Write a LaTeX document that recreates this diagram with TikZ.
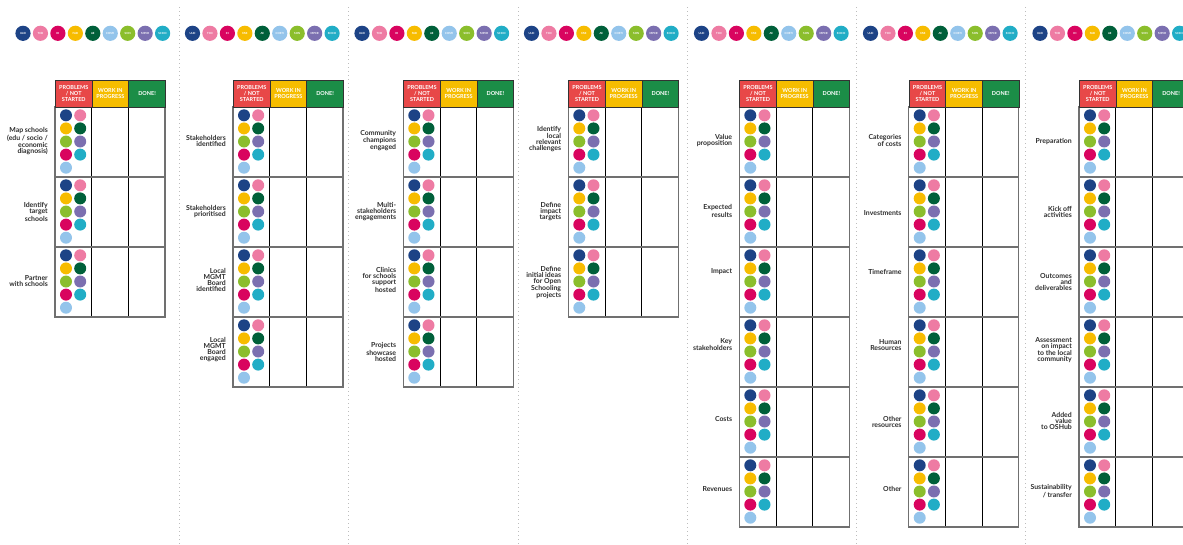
\documentclass[tikz,border=0pt]{standalone}
\usepackage{fontspec}
\setmainfont{Lato}
\definecolor{cUlei}{HTML}{1D4386}
\definecolor{cTcd}{HTML}{EE7BA3}
\definecolor{cIh}{HTML}{D9045F}
\definecolor{cFab}{HTML}{F7BC00}
\definecolor{cAe}{HTML}{00603A}
\definecolor{cCosti}{HTML}{93C4EB}
\definecolor{cSon}{HTML}{8BBE2C}
\definecolor{cMpcr}{HTML}{7B6FB0}
\definecolor{cScico}{HTML}{21ADC6}
\definecolor{hRed}{HTML}{E84848}
\definecolor{hYel}{HTML}{F6BD00}
\definecolor{hGrn}{HTML}{1B8D47}
\definecolor{labText}{HTML}{2E2E2E}
\definecolor{gridGray}{HTML}{707070}
\definecolor{sepGray}{HTML}{BDBDBD}
\tikzset{
 topdot/.style={circle, minimum size=15.2pt, inner sep=0pt, text=white, font=\fontsize{2.8}{3}\selectfont\bfseries},
 dot/.style={circle, minimum size=12pt, inner sep=0pt},
 hdr/.style={minimum width=36.67pt, minimum height=27pt, inner sep=0pt, anchor=north west, text=white, align=center, font=\fontsize{5.5}{6}\selectfont\bfseries, draw=black!80, line width=0.8pt},
 lab/.style={anchor=east, align=right, inner sep=0pt, text=labText, font=\fontsize{6.9}{6}\selectfont\bfseries},
 outerln/.style={draw=gridGray, line width=1.3pt},
 colln/.style={draw=black, line width=0.9pt},
 rowln/.style={draw=gridGray, line width=1.1pt},
 sepln/.style={draw=sepGray, line width=0.7pt, dash pattern=on 0.7pt off 3.3pt},
}
% #1 name, #2 left x, #3 number of rows
\newcommand\sheet[3]{%
 \pgfmathsetmacro\yb{107+70*#3}
 \draw[colln] ({#2+36.67},107) -- ({#2+36.67},\yb);
 \draw[colln] ({#2+73.33},107) -- ({#2+73.33},\yb);
 \foreach \r in {1,...,#3}{
   \pgfmathsetmacro\yt{37+70*\r}
   \ifnum\r>1 \draw[rowln] (#2,\yt) -- ({#2+110},\yt);\fi
   \foreach \c [count=\i from 0] in {cUlei,cFab,cSon,cIh,cCosti}
     \node[dot, fill=\c] (#1-\r-l\i) at ({#2+11},{\yt+8.3+13.1*\i}) {};
   \foreach \c [count=\i from 0] in {cTcd,cAe,cMpcr,cScico}
     \node[dot, fill=\c] (#1-\r-r\i) at ({#2+25.2},{\yt+8.3+13.1*\i}) {};
 }
 \draw[outerln] (#2,107) rectangle ({#2+110},\yb);
 \node[hdr, fill=hRed] (#1h1) at (#2,80) {PROBLEMS\\/ NOT\\STARTED};
 \node[hdr, fill=hYel] (#1h2) at ({#2+36.67},80) {WORK IN\\PROGRESS};
 \node[hdr, fill=hGrn] (#1h3) at ({#2+73.33},80) {DONE!};
}
\newcommand\rowlab[4]{\node[lab] (#1) at ({#2-7},#3) {#4};}
\begin{document}
\begin{tikzpicture}[x=1pt,y=-1pt]
\clip (0,0) rectangle (1183,544);
\fill[white] (0,0) rectangle (1183,544);
% separators
\foreach \s in {179.5,348.8,518.3,687,856,1025}
  \draw[sepln] (\s,7) -- (\s,544);
% partner dots
\foreach \p/\x in {1/23,2/192.5,3/362,4/531.5,5/701.5,6/870.5,7/1040}
  \foreach \c/\t [count=\i from 0] in {cUlei/ULEI,cTcd/TCD,cIh/IH,cFab/FAB,cAe/AE,cCosti/COSTI,cSon/SON,cMpcr/MPCR,cScico/SCICO}
    \node[topdot, fill=\c] (top\p-\i) at ({\x+17.45*\i},33.3) {\t};
% tables
\sheet{A}{55}{3}
\sheet{B}{233}{4}
\sheet{C}{403.3}{4}
\sheet{D}{568.3}{3}
\sheet{E}{739.3}{6}
\sheet{F}{908.7}{6}
\sheet{G}{1079}{6}
% labels panel 1
\rowlab{A1}{55}{141}{Map schools\\(edu / socio /\\economic\\diagnosis)}
\rowlab{A2}{55}{212}{Identify\\target\\schools}
\rowlab{A3}{55}{281}{Partner\\with schools}
% panel 2
\rowlab{B1}{233}{140.5}{Stakeholders\\identified}
\rowlab{B2}{233}{211.5}{Stakeholders\\prioritised}
\rowlab{B3}{233}{280}{Local\\MGMT\\Board\\identified}
\rowlab{B4}{233}{350}{Local\\MGMT\\Board\\engaged}
% panel 3
\rowlab{C1}{403.3}{140.5}{Community\\champions\\engaged}
\rowlab{C2}{403.3}{211.5}{Multi-\\stakeholders\\engagements}
\rowlab{C3}{403.3}{280}{Clinics\\for schools\\support\\hosted}
\rowlab{C4}{403.3}{352}{Projects\\showcase\\hosted}
% panel 4
\rowlab{D1}{568.3}{139}{Identify\\local\\relevant\\challenges}
\rowlab{D2}{568.3}{211.5}{Define\\impact\\targets}
\rowlab{D3}{568.3}{282.5}{Define\\initial ideas\\for Open\\Schooling\\projects}
% panel 5
\rowlab{E1}{739.3}{140.5}{Value\\proposition}
\rowlab{E2}{739.3}{211}{Expected\\results}
\rowlab{E3}{739.3}{271.7}{Impact}
\rowlab{E4}{739.3}{344.5}{Key\\stakeholders}
\rowlab{E5}{739.3}{419}{Costs}
\rowlab{E6}{739.3}{489}{Revenues}
% panel 6
\rowlab{F1}{908.7}{140.5}{Categories\\of costs}
\rowlab{F2}{908.7}{212.7}{Investments}
\rowlab{F3}{908.7}{271.7}{Timeframe}
\rowlab{F4}{908.7}{344.7}{Human\\Resources}
\rowlab{F5}{908.7}{422}{Other\\resources}
\rowlab{F6}{908.7}{489}{Other}
% panel 7
\rowlab{G1}{1079}{141.7}{Preparation}
\rowlab{G2}{1079}{212}{Kick off\\activities}
\rowlab{G3}{1079}{281.7}{Outcomes\\and\\deliverables}
\rowlab{G4}{1079}{350}{Assessment\\on impact\\to the local\\community}
\rowlab{G5}{1079}{421}{Added\\value\\to OSHub}
\rowlab{G6}{1079}{491}{Sustainability\\/ transfer}
\end{tikzpicture}
\end{document}
